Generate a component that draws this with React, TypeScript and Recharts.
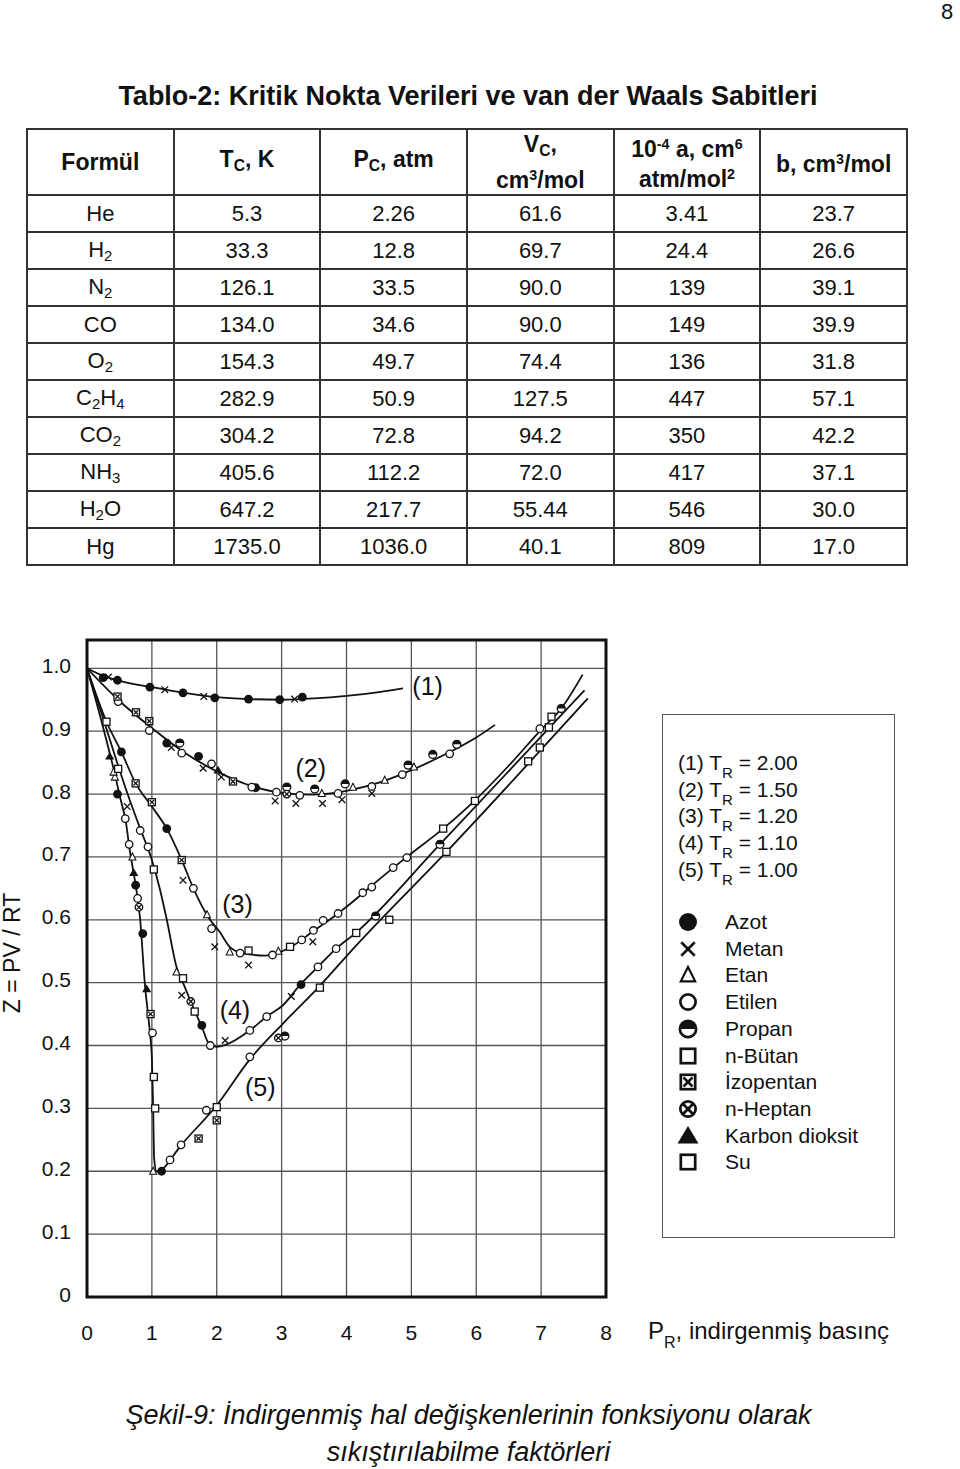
import { ComposedChart, Line, Scatter, XAxis, YAxis, CartesianGrid, ReferenceArea, ReferenceDot } from 'recharts';

// tablo verileri
const formulas = ['He', 'H2', 'N2', 'CO', 'O2', 'C2H4', 'CO2', 'NH3', 'H2O', 'Hg'];
const tcVals = ['5.3', '33.3', '126.1', '134.0', '154.3', '282.9', '304.2', '405.6', '647.2', '1735.0'];
const pcVals = ['2.26', '12.8', '33.5', '34.6', '49.7', '50.9', '72.8', '112.2', '217.7', '1036.0'];
const vcVals = ['61.6', '69.7', '90.0', '90.0', '74.4', '127.5', '94.2', '72.0', '55.44', '40.1'];
const aVals = ['3.41', '24.4', '139', '149', '136', '447', '350', '417', '546', '809'];
const bVals = ['23.7', '26.6', '39.1', '39.9', '31.8', '57.1', '42.2', '37.1', '30.0', '17.0'];

// egriler: [P_R, Z]
const curve1 = [[0, 1], [0.25, 0.988], [0.5, 0.98], [1, 0.97], [1.5, 0.961], [2, 0.954], [2.5, 0.951], [3, 0.95], [3.5, 0.952], [4, 0.956], [4.5, 0.962], [4.87, 0.968]];
const curve2 = [[0, 1], [0.5, 0.948], [1, 0.905], [1.5, 0.866], [2, 0.836], [2.5, 0.814], [3, 0.802], [3.5, 0.799], [4, 0.805], [4.5, 0.818], [5, 0.838], [5.5, 0.862], [6, 0.89], [6.29, 0.91]];
const curve3 = [[0, 1], [0.3, 0.915], [0.53, 0.867], [0.75, 0.817], [1, 0.78], [1.23, 0.745], [1.46, 0.695], [1.64, 0.65], [1.87, 0.604], [2.05, 0.58], [2.2, 0.557], [2.4, 0.547], [2.75, 0.543], [3.13, 0.556], [3.49, 0.582], [3.87, 0.61], [4.03, 0.623], [4.49, 0.663], [4.93, 0.7], [5.49, 0.745], [5.98, 0.79], [6.5, 0.845], [6.98, 0.9], [7.31, 0.936], [7.64, 0.99]];
const curve4 = [[0, 1], [0.25, 0.92], [0.48, 0.845], [0.66, 0.79], [0.82, 0.745], [1, 0.695], [1.12, 0.65], [1.23, 0.6], [1.38, 0.525], [1.5, 0.495], [1.66, 0.455], [1.77, 0.43], [1.88, 0.403], [2, 0.398], [2.16, 0.402], [2.51, 0.424], [2.77, 0.446], [3.02, 0.464], [3.28, 0.496], [3.56, 0.525], [3.84, 0.554], [4.13, 0.578], [5.44, 0.72], [7.67, 0.965]];
const curve5 = [[0, 1], [0.2, 0.925], [0.41, 0.84], [0.51, 0.795], [0.6, 0.755], [0.66, 0.71], [0.75, 0.655], [0.82, 0.6], [0.89, 0.5], [0.97, 0.42], [1, 0.38], [1.02, 0.3], [1.035, 0.22], [1.07, 0.2], [1.12, 0.2], [1.2, 0.207], [1.41, 0.236], [2, 0.305], [2.51, 0.378], [3.02, 0.435], [3.59, 0.495], [4.13, 0.557], [5.54, 0.708], [7.72, 0.952]];

// deney noktalari (gaz bazinda)
const azotPts = [[0.25, 0.985], [0.47, 0.981], [0.97, 0.97], [1.48, 0.961], [1.97, 0.953], [2.49, 0.951], [2.97, 0.95], [3.32, 0.954], [1.23, 0.881], [1.72, 0.86], [2.6, 0.81], [0.53, 0.867], [1.23, 0.745], [1.77, 0.432], [3.3, 0.497], [0.47, 0.8], [0.75, 0.655], [0.86, 0.578], [1.15, 0.2]];
const metanPts = [[0.33, 0.986], [1.2, 0.966], [1.8, 0.955], [3.2, 0.951], [1.3, 0.874], [1.79, 0.841], [2.07, 0.827], [2.9, 0.789], [3.22, 0.785], [3.63, 0.785], [3.93, 0.791], [4.39, 0.801], [1.97, 0.557], [2.49, 0.528], [3.48, 0.565], [1.48, 0.663], [1.46, 0.48], [2.13, 0.408], [3.15, 0.478], [0.62, 0.78]];
const etanPts = [[3.62, 0.801], [4.1, 0.811], [4.59, 0.822], [5.04, 0.843], [2.2, 0.549], [2.95, 0.55], [1.85, 0.608], [0.43, 0.827], [1.38, 0.517], [0.41, 0.835], [1.02, 0.2], [0.7, 0.7]];
const etilenPts = [[0.48, 0.947], [0.96, 0.901], [1.46, 0.865], [1.92, 0.848], [2.54, 0.811], [2.92, 0.803], [3.28, 0.798], [3.87, 0.801], [4.39, 0.812], [4.86, 0.831], [5.59, 0.864], [1.64, 0.65], [1.92, 0.586], [2.36, 0.547], [2.86, 0.544], [3.31, 0.568], [3.49, 0.583], [3.64, 0.599], [3.87, 0.61], [4.25, 0.643], [4.39, 0.652], [4.72, 0.683], [4.93, 0.699], [6.98, 0.904], [0.82, 0.742], [0.94, 0.716], [1.9, 0.4], [2.51, 0.424], [2.77, 0.446], [3.56, 0.525], [3.84, 0.554], [0.59, 0.761], [0.65, 0.72], [0.78, 0.634], [1.84, 0.297], [2.51, 0.382], [1.28, 0.218], [1.45, 0.242], [1.01, 0.42]];
const propanPts = [[1.43, 0.881], [3.08, 0.811], [3.51, 0.808], [3.98, 0.816], [4.95, 0.846], [5.33, 0.863], [5.7, 0.879], [7.31, 0.936], [5.44, 0.72], [4.45, 0.606], [3.05, 0.415]];
const butanPts = [[0.3, 0.915], [2.49, 0.551], [3.13, 0.557], [5.49, 0.745], [5.98, 0.789], [0.48, 0.84], [1.03, 0.68], [1.48, 0.507], [1.66, 0.454], [4.15, 0.579], [2, 0.302], [3.59, 0.492], [1.05, 0.3], [1.03, 0.35]];
const izopentanPts = [[0.47, 0.955], [0.755, 0.93], [0.96, 0.916], [2.25, 0.82], [0.75, 0.817], [1.46, 0.695], [1, 0.787], [1.72, 0.252], [2, 0.281], [0.98, 0.45]];
const heptanPts = [[3.08, 0.8], [1.6, 0.47], [2.95, 0.412], [0.8, 0.62]];
const co2Pts = [[2.02, 0.838], [0.35, 0.86], [0.72, 0.675], [0.92, 0.49]];
const suPts = [[7.12, 0.906], [7.16, 0.923], [6.8, 0.852], [6.98, 0.874], [5.54, 0.708], [4.66, 0.6]];

const curveNames = ['(1)', '(2)', '(3)', '(4)', '(5)'];
const curveLabelPos = [[5.25, 0.971], [3.45, 0.841], [2.32, 0.625], [2.28, 0.457], [2.67, 0.334]];
const trValues = ['2.00', '1.50', '1.20', '1.10', '1.00'];
const gasNames = ['Azot', 'Metan', 'Etan', 'Etilen', 'Propan', 'n-Bütan', 'İzopentan', 'n-Heptan', 'Karbon dioksit', 'Su'];
const gasKinds = ['azot', 'metan', 'etan', 'etilen', 'propan', 'butan', 'izopentan', 'heptan', 'co2', 'su'];
const gasPts = [azotPts, metanPts, etanPts, etilenPts, propanPts, butanPts, izopentanPts, heptanPts, co2Pts, suPts];

const xTicks = [0, 1, 2, 3, 4, 5, 6, 7, 8];
const yTicks = [0, 0.1, 0.2, 0.3, 0.4, 0.5, 0.6, 0.7, 0.8, 0.9, 1.0];

const FONT = '"Liberation Sans", Arial, sans-serif';
const INK = '#111';

const toRows = (pts: number[][]) => pts.map(([p, z]) => ({ p, z }));

function Glyph({ kind, cx, cy, s }: { kind: string; cx: number; cy: number; s: number }) {
  const w = Math.max(1.2, s * 0.3);
  switch (kind) {
    case 'azot':
      return <circle cx={cx} cy={cy} r={s} fill={INK} />;
    case 'metan':
      return (
        <g stroke={INK} strokeWidth={w}>
          <line x1={cx - s * 0.75} y1={cy - s * 0.75} x2={cx + s * 0.75} y2={cy + s * 0.75} />
          <line x1={cx - s * 0.75} y1={cy + s * 0.75} x2={cx + s * 0.75} y2={cy - s * 0.75} />
        </g>
      );
    case 'etan':
      return <path d={`M${cx},${cy - s * 0.9}L${cx + s * 0.8},${cy + s * 0.7}L${cx - s * 0.8},${cy + s * 0.7}Z`} fill="#fff" stroke={INK} strokeWidth={w * 0.8} />;
    case 'etilen':
      return <circle cx={cx} cy={cy} r={s * 0.85} fill="#fff" stroke={INK} strokeWidth={w} />;
    case 'propan':
      return (
        <g>
          <circle cx={cx} cy={cy} r={s * 0.9} fill="#fff" stroke={INK} strokeWidth={w} />
          <path d={`M${cx - s * 0.9},${cy}A${s * 0.9},${s * 0.9} 0 0 1 ${cx + s * 0.9},${cy}Z`} fill={INK} />
        </g>
      );
    case 'butan':
    case 'su':
      return <rect x={cx - s * 0.8} y={cy - s * 0.8} width={s * 1.6} height={s * 1.6} fill="#fff" stroke={INK} strokeWidth={w} />;
    case 'izopentan':
      return (
        <g stroke={INK} strokeWidth={w}>
          <rect x={cx - s * 0.8} y={cy - s * 0.8} width={s * 1.6} height={s * 1.6} fill="#fff" />
          <line x1={cx - s * 0.5} y1={cy - s * 0.5} x2={cx + s * 0.5} y2={cy + s * 0.5} />
          <line x1={cx - s * 0.5} y1={cy + s * 0.5} x2={cx + s * 0.5} y2={cy - s * 0.5} />
        </g>
      );
    case 'heptan':
      return (
        <g stroke={INK} strokeWidth={w}>
          <circle cx={cx} cy={cy} r={s * 0.85} fill="#fff" />
          <line x1={cx - s * 0.55} y1={cy - s * 0.55} x2={cx + s * 0.55} y2={cy + s * 0.55} />
          <line x1={cx - s * 0.55} y1={cy + s * 0.55} x2={cx + s * 0.55} y2={cy - s * 0.55} />
        </g>
      );
    case 'co2':
      return <path d={`M${cx},${cy - s}L${cx + s * 1.05},${cy + s * 0.75}L${cx - s * 1.05},${cy + s * 0.75}Z`} fill={INK} />;
    default:
      return null;
  }
}

const Sub = ({ c }: { c: string }) => <span style={{ fontSize: '0.68em', verticalAlign: '-0.25em' }}>{c}</span>;
const Sup = ({ c }: { c: string }) => <span style={{ fontSize: '0.62em', verticalAlign: '0.55em' }}>{c}</span>;

// H2O -> H<sub>2</sub>O
function Formula({ f }: { f: string }) {
  const parts = f.split(/(\d+)/).filter((x) => x !== '');
  return <>{parts.map((p, i) => (/^\d+$/.test(p) ? <Sub key={i} c={p} /> : <span key={i}>{p}</span>))}</>;
}

const cell: React.CSSProperties = { border: '2px solid #333', textAlign: 'center', padding: 0, fontSize: 22 };
const head: React.CSSProperties = { ...cell, fontWeight: 'bold', fontSize: 23, lineHeight: '25px' };

function Table() {
  return (
    <table style={{ position: 'absolute', left: 26, top: 128, width: 882, borderCollapse: 'collapse', tableLayout: 'fixed', fontFamily: FONT, color: INK }}>
      <tbody>
        <tr style={{ height: 66 }}>
          <td style={head}>Formül</td>
          <td style={head}>T<Sub c="C" />, K</td>
          <td style={head}>P<Sub c="C" />, atm</td>
          <td style={head}>V<Sub c="C" />,<br />cm<Sup c="3" />/mol</td>
          <td style={head}>10<Sup c="-4" /> a, cm<Sup c="6" /><br />atm/mol<Sup c="2" /></td>
          <td style={head}>b, cm<Sup c="3" />/mol</td>
        </tr>
        {formulas.map((f, i) => (
          <tr key={f} style={{ height: 37 }}>
            <td style={cell}><Formula f={f} /></td>
            <td style={cell}>{tcVals[i]}</td>
            <td style={cell}>{pcVals[i]}</td>
            <td style={cell}>{vcVals[i]}</td>
            <td style={cell}>{aVals[i]}</td>
            <td style={cell}>{bVals[i]}</td>
          </tr>
        ))}
      </tbody>
    </table>
  );
}

function Chart() {
  const curves = [curve1, curve2, curve3, curve4, curve5];
  return (
    <div style={{ position: 'absolute', left: 0, top: 620 }}>
      <ComposedChart width={640} height={740} margin={{ top: 20, right: 34, bottom: 13, left: 0 }}>
        <CartesianGrid stroke="#555" strokeWidth={1.3} />
        <XAxis
          type="number"
          dataKey="p"
          domain={[0, 8]}
          ticks={xTicks}
          height={50}
          axisLine={false}
          tickLine={false}
          allowDataOverflow
          tick={(props: any) => (
            <text x={props.x} y={712} textAnchor="middle" dominantBaseline="central" fontSize={21} fontFamily={FONT} fill={INK}>
              {props.payload.value}
            </text>
          )}
        />
        <YAxis
          type="number"
          dataKey="z"
          domain={[0, 1.045]}
          ticks={yTicks}
          width={87}
          axisLine={false}
          tickLine={false}
          allowDataOverflow
          tick={(props: any) => (
            <text x={71} y={props.y - 3} textAnchor="end" dominantBaseline="central" fontSize={21} fontFamily={FONT} fill={INK}>
              {props.payload.value === 0 ? '0' : Number(props.payload.value).toFixed(1)}
            </text>
          )}
        />
        {curves.map((c, i) => (
          <Line key={'c' + i} data={toRows(c)} dataKey="z" type="monotone" stroke={INK} strokeWidth={1.8} dot={false} isAnimationActive={false} />
        ))}
        {gasPts.map((pts, i) => (
          <Scatter
            key={'g' + i}
            data={toRows(pts)}
            dataKey="z"
            isAnimationActive={false}
            shape={(p: any) => <Glyph kind={gasKinds[i]} cx={p.cx} cy={p.cy} s={4.4} />}
          />
        ))}
        {curveNames.map((n, i) => (
          <ReferenceDot
            key={n}
            x={curveLabelPos[i][0]}
            y={curveLabelPos[i][1]}
            r={0}
            fill="none"
            stroke="none"
            label={{ value: n, position: 'center', fontSize: 25, fill: INK, fontFamily: FONT }}
          />
        ))}
        <ReferenceArea x1={0} x2={8} y1={0} y2={1.045} fill="none" stroke={INK} strokeWidth={3} />
      </ComposedChart>
    </div>
  );
}

function LegendBox() {
  return (
    <>
      <div style={{ position: 'absolute', left: 662, top: 714, width: 233, height: 524, border: '1.5px solid #555', boxSizing: 'border-box' }} />
      {trValues.map((v, i) => (
        <div key={v} style={{ position: 'absolute', left: 678, top: 751 + i * 26.7, fontSize: 21, lineHeight: '24px', whiteSpace: 'nowrap' }}>
          {curveNames[i]}{i === 4 ? '  ' : ' '}T<span style={{ fontSize: 15, position: 'relative', top: 8 }}>R</span> = {v}
        </div>
      ))}
      {gasNames.map((g, i) => (
        <div key={g}>
          <svg style={{ position: 'absolute', left: 674, top: 908 + i * 26.7 }} width={30} height={28}>
            <Glyph kind={gasKinds[i]} cx={14} cy={14} s={gasKinds[i] === 'co2' ? 10 : 9} />
          </svg>
          <div style={{ position: 'absolute', left: 725, top: 910 + i * 26.7, fontSize: 21, lineHeight: '24px', whiteSpace: 'nowrap' }}>{g}</div>
        </div>
      ))}
    </>
  );
}

export default function App() {
  return (
    <div style={{ position: 'absolute', left: 0, top: 0, width: 960, height: 1469, background: '#fff', fontFamily: FONT, color: INK }}>
      <div style={{ position: 'absolute', left: 941, top: 0, fontSize: 22, lineHeight: '24px' }}>8</div>
      <div style={{ position: 'absolute', left: 0, top: 81, width: 936, textAlign: 'center', fontSize: 27, fontWeight: 'bold', lineHeight: '30px', whiteSpace: 'nowrap' }}>
        Tablo-2: Kritik Nokta Verileri ve van der Waals Sabitleri
      </div>
      <Table />
      <Chart />
      <div style={{ position: 'absolute', left: 12, top: 953, transform: 'translate(-50%, -50%) rotate(-90deg)', fontSize: 23, whiteSpace: 'nowrap' }}>
        Z = PV / RT
      </div>
      <LegendBox />
      <div style={{ position: 'absolute', left: 648, top: 1317, fontSize: 24, lineHeight: '28px', whiteSpace: 'nowrap' }}>
        P<span style={{ fontSize: 16, position: 'relative', top: 9 }}>R</span>, indirgenmiş basınç
      </div>
      <div style={{ position: 'absolute', left: 0, top: 1397, width: 937, textAlign: 'center', fontSize: 27, fontStyle: 'italic', lineHeight: '37px' }}>
        Şekil-9: İndirgenmiş hal değişkenlerinin fonksiyonu olarak
        <br />
        sıkıştırılabilme faktörleri
      </div>
    </div>
  );
}
